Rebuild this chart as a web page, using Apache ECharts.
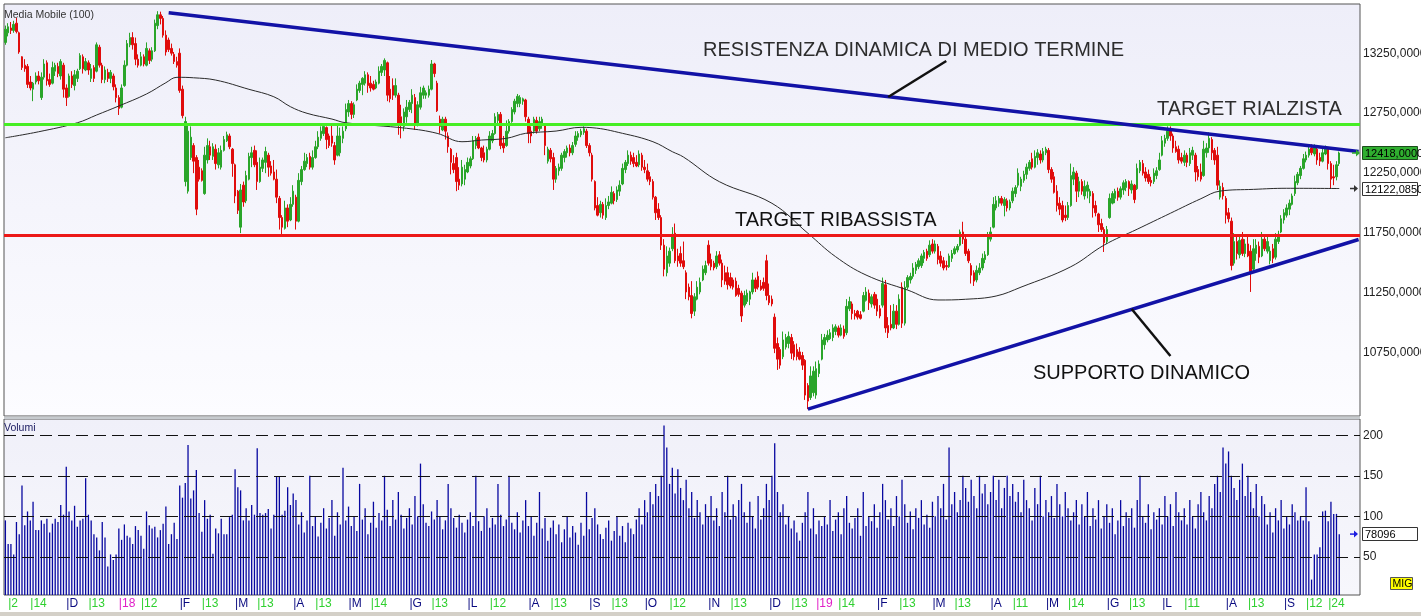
<!DOCTYPE html>
<html><head><meta charset="utf-8">
<script src="https://cdn.jsdelivr.net/npm/echarts@6/dist/echarts.min.js"></script>
<style>html,body{margin:0;padding:0;background:#fff;overflow:hidden}#c{width:1421px;height:616px}</style>
</head><body><div id="c"></div>
<script>
// ---------- DATA ----------
const startDate = [2017, 10, 1];
const endDate = [2019, 8, 30];
const holidays = ['2017-12-25','2017-12-26','2018-01-01','2018-03-30','2018-04-02','2018-05-01','2018-08-15','2018-12-24','2018-12-25','2018-12-26','2018-12-31','2019-01-01','2019-04-19','2019-04-22','2019-05-01','2019-08-15'];
const emptySlots = 7;

// [open, close, low, high]
const candles = [
[13340,13450,13320,13480],[13420,13470,13390,13500],[13460,13440,13410,13510],[13440,13490,13420,13520],[13500,13430,13415,13545],
[13420,13260,13245,13430],[13220,13130,13110,13225],[13150,13120,13095,13200],[13140,12990,12960,13160],[13010,12960,12940,13060],
[12950,13000,12850,13010],[13010,13060,12990,13090],[13060,13020,12990,13100],[12880,13050,12860,13090],[13050,13160,13030,13200],
[13170,13020,12980,13190],[13030,12990,12970,13080],[13000,13130,12990,13180],[13100,13150,13060,13170],[13140,13080,13050,13170],
[13060,13180,13030,13200],[13150,12950,12880,13170],[12960,12880,12810,12990],[12890,13060,12880,13080],[13060,12990,12960,13100],
[12980,13070,12940,13110],[13040,13100,13010,13120],[13120,13230,13110,13250],[13220,13120,13080,13240],[13110,13180,13100,13210],
[13170,13110,13070,13190],[13040,13120,13010,13160],[13130,13040,13010,13150],[13100,13320,13090,13340],[13300,13150,13130,13320],
[13150,13030,13000,13170],[13030,13110,13000,13140],[13090,13040,13010,13120],[13040,13090,13000,13110],[13060,12970,12940,13080],
[12960,12880,12840,12990],[12880,12790,12735,12900],[12800,12960,12790,12990],[12980,13150,12970,13190],[13150,13330,13140,13360],
[13320,13380,13300,13420],[13380,13320,13280,13425],[13330,13200,13150,13380],[13200,13150,13130,13240],[13150,13220,13140,13260],
[13220,13160,13140,13240],[13150,13290,13140,13340],[13270,13190,13160,13290],[13200,13270,13180,13300],[13270,13500,13260,13530],
[13480,13570,13450,13600],[13570,13540,13490,13596],[13540,13400,13380,13560],[13400,13260,13230,13440],[13360,13280,13260,13380],
[13290,13250,13230,13330],[13240,13180,13160,13260],[13180,13150,13130,13220],[13250,12940,12920,13290],[12950,12730,12707,12980],
[12180,12680,12140,12720],[12100,12600,12080,12650],[12380,12550,12360,12640],[12480,12350,12250,12500],[12380,11950,11900,12400],
[12300,12200,12180,12360],[12270,12190,12180,12290],[12080,12400,12070,12470],[12360,12480,12330,12540],[12470,12400,12360,12520],
[12390,12470,12360,12500],[12450,12330,12280,12490],[12320,12420,12290,12460],[12300,12440,12280,12480],[12440,12530,12430,12560],
[12520,12570,12510,12596],[12560,12470,12450,12580],[12450,12330,12220,12460],[12320,12060,12000,12330],[12100,11940,11910,12110],
[11800,12110,11750,12160],[12150,12010,11970,12180],[12020,12230,12000,12270],[12200,12390,12190,12420],[12380,12420,12300,12470],
[12440,12320,12300,12480],[12340,12180,12110,12440],[12180,12300,12170,12380],[12290,12360,12260,12380],[12340,12430,12250,12470],
[12400,12300,12220,12420],[12310,12250,12230,12350],[12260,12200,12190,12360],[12200,12050,12000,12280],[12040,11880,11780,12060],
[11880,11800,11721,11900],[11790,11960,11780,12020],[11960,11850,11800,11990],[11860,11990,11850,12050],[11990,12100,11970,12150],
[12050,11850,11780,12070],[11850,12190,11840,12250],[12180,12280,12150,12310],[12280,12350,12270,12420],[12330,12380,12300,12410],
[12390,12300,12280,12420],[12300,12380,12280,12440],[12380,12470,12370,12520],[12470,12550,12450,12600],[12540,12600,12520,12640],
[12580,12640,12560,12660],[12630,12530,12450,12640],[12560,12480,12460,12580],[12560,12500,12470,12650],[12480,12360,12320,12510],
[12400,12560,12390,12650],[12420,12560,12390,12630],[12540,12600,12500,12640],[12620,12780,12600,12830],[12760,12830,12720,12860],
[12830,12740,12700,12850],[12740,12820,12710,12840],[12860,12950,12850,12990],[12940,13000,12920,13020],[12990,13040,12900,13050],
[13000,13070,12980,13100],[13070,12980,12920,13090],[13000,12960,12930,13060],[12990,12950,12940,13020],[12960,13010,12950,13030],
[13000,13100,12990,13140],[13090,13140,13060,13160],[13110,13190,13060,13207],[13170,12900,12850,13180],[12950,12870,12840,13060],
[12980,12900,12860,13040],[12900,12980,12880,13040],[12900,12650,12570,12920],[12720,12650,12540,12820],[12640,12760,12600,12790],
[12720,12800,12670,12860],[12780,12840,12760,12860],[12830,12900,12750,12950],[12880,12660,12610,12910],[12660,12820,12640,12850],
[12800,12920,12780,12970],[12900,12960,12870,12980],[12900,12920,12870,12940],[12900,12950,12880,12980],[12950,13160,12940,13193],
[13160,13080,13050,13170],[13000,12770,12760,13020],[12700,12640,12580,12730],[12610,12700,12600,12720],[12700,12600,12530,12720],
[12560,12470,12420,12590],[12450,12340,12240,12460],[12330,12280,12250,12400],[12380,12180,12100,12420],[12200,12150,12110,12300],
[12160,12300,12140,12360],[12200,12280,12150,12320],[12260,12340,12250,12380],[12310,12370,12290,12390],[12370,12520,12360,12560],
[12480,12540,12450,12560],[12550,12460,12450,12580],[12460,12380,12350,12470],[12420,12360,12340,12480],[12360,12450,12340,12470],
[12450,12560,12440,12600],[12520,12580,12500,12610],[12580,12720,12570,12750],[12690,12740,12660,12760],[12740,12480,12450,12760],
[12500,12460,12420,12560],[12480,12600,12470,12690],[12600,12680,12580,12700],[12680,12780,12670,12800],[12760,12850,12740,12870],
[12830,12890,12800,12910],[12830,12880,12800,12900],[12850,12870,12820,12880],[12860,12720,12680,12870],[12700,12580,12500,12720],
[12600,12560,12500,12640],[12600,12700,12580,12720],[12690,12600,12580,12720],[12620,12680,12600,12720],[12660,12700,12620,12720],
[12650,12480,12400,12660],[12350,12450,12330,12470],[12440,12370,12340,12460],[12380,12200,12110,12420],[12200,12290,12170,12310],
[12270,12300,12230,12330],[12290,12400,12270,12420],[12380,12430,12340,12450],[12420,12460,12380,12480],[12460,12420,12390,12490],
[12420,12480,12400,12510],[12490,12560,12470,12600],[12550,12580,12520,12600],[12570,12600,12550,12620],[12590,12620,12570,12640],
[12600,12480,12460,12620],[12480,12420,12390,12500],[12400,12200,12180,12420],[12180,11960,11940,12190],[11980,11900,11890,12050],
[11920,11990,11880,12020],[11990,11900,11870,12010],[11880,11980,11860,12040],[11980,12010,11950,12060],[12000,12090,11990,12140],
[12080,12020,11990,12100],[12030,12110,12010,12140],[12100,12150,12060,12190],[12160,12290,12150,12330],[12280,12340,12250,12360],
[12330,12400,12310,12440],[12400,12350,12320,12430],[12380,12330,12300,12420],[12340,12310,12300,12400],[12320,12410,12300,12440],
[12400,12300,12270,12420],[12300,12280,12250,12360],[12270,12200,12180,12330],[12220,12180,12150,12260],[12180,12050,12030,12200],
[12050,11920,11860,12060],[11950,11880,11860,12000],[11880,11650,11610,11900],[11650,11450,11390,11700],[11420,11560,11390,11640],
[11500,11600,11470,11630],[11620,11740,11600,11800],[11750,11520,11500,11830],[11560,11520,11470,11620],[11580,11500,11470,11640],
[11520,11470,11450,11680],[11420,11260,11200,11440],[11300,11220,11190,11330],[11230,11080,11040,11350],[11100,11220,11060,11250],
[11200,11300,11190,11350],[11260,11340,11240,11380],[11360,11450,11350,11480],[11420,11480,11400,11520],[11650,11500,11480,11690],
[11530,11470,11440,11580],[11500,11460,11440,11520],[11470,11560,11450,11600],[11570,11500,11480,11600],[11500,11360,11300,11530],
[11420,11350,11320,11480],[11420,11320,11280,11470],[11380,11310,11290,11420],[11360,11300,11280,11380],[11350,11230,11220,11380],
[11290,11240,11220,11320],[11250,11060,11010,11270],[11150,11230,11130,11270],[11180,11250,11160,11280],[11200,11260,11150,11270],
[11260,11360,11240,11420],[11360,11290,11260,11380],[11390,11300,11280,11430],[11310,11280,11270,11360],[11340,11290,11270,11380],
[11520,11230,11190,11570],[11230,11170,11150,11330],[11200,11160,11140,11230],[11050,10790,10750,11080],[10830,10700,10610,10880],
[10780,10650,10620,10800],[10720,10860,10700,10930],[10800,10880,10780,10910],[10830,10890,10790,10930],[10880,10750,10700,10910],
[10820,10720,10690,10850],[10780,10720,10690,10830],[10760,10700,10690,10800],[10730,10650,10610,10760],[10690,10400,10360,10700],
[10480,10350,10283,10500],[10380,10560,10360,10640],[10420,10600,10390,10640],[10400,10620,10370,10680],[10580,10660,10550,10690],
[10700,10860,10690,10910],[10820,10880,10780,10910],[10860,10900,10840,10940],[10870,10920,10860,10950],[10880,10960,10850,10990],
[10930,10970,10900,10990],[10960,10900,10880,10980],[10900,10960,10890,10990],[10950,10890,10870,10980],[10920,11140,10900,11200],
[11120,11180,11100,11220],[11160,11080,11030,11180],[11080,11060,11030,11110],[11100,11050,11030,11110],[11070,11040,11030,11100],
[11100,11230,11090,11260],[11190,11260,11180,11300],[11250,11170,11110,11280],[11160,11220,11130,11240],[11240,11150,11120,11260],
[11200,11100,11060,11240],[11120,11060,11040,11150],[11150,11330,11130,11380],[11320,10960,10920,11360],[10980,10920,10876,11050],
[10990,10960,10940,11150],[10960,11100,10950,11160],[11100,10990,10950,11150],[10990,11200,10980,11240],[11300,11000,10960,11340],
[11000,11300,10980,11350],[11300,11380,11280,11400],[11360,11390,11330,11420],[11390,11460,11370,11500],[11440,11490,11410,11510],
[11470,11520,11450,11540],[11480,11560,11460,11580],[11540,11590,11500,11610],[11600,11540,11520,11620],[11570,11650,11550,11690],
[11660,11600,11580,11700],[11600,11660,11580,11690],[11640,11530,11490,11660],[11560,11500,11470,11600],[11520,11460,11440,11550],
[11480,11470,11440,11520],[11470,11560,11460,11580],[11540,11580,11510,11610],[11580,11620,11570,11640],[11610,11640,11590,11660],
[11650,11760,11640,11780],[11760,11700,11660,11845],[11700,11580,11560,11720],[11600,11520,11500,11620],[11480,11400,11330,11500],
[11420,11350,11310,11440],[11360,11440,11340,11480],[11420,11460,11400,11500],[11460,11540,11440,11580],[11530,11570,11500,11600],
[11570,11720,11560,11760],[11700,11760,11680,11800],[11800,11990,11790,12050],[11960,12020,11940,12060],[12000,12040,11970,12060],
[12040,12000,11980,12060],[11980,12030,11890,12050],[12020,11960,11930,12040],[11960,12010,11940,12030],[12020,12100,12000,12130],
[12080,12130,12050,12150],[12150,12250,12130,12290],[12140,12200,12100,12220],[12190,12240,12170,12270],[12240,12300,12200,12330],
[12290,12340,12270,12360],[12370,12300,12280,12420],[12300,12390,12290,12440],[12380,12420,12320,12450],[12410,12360,12330,12440],
[12360,12430,12340,12460],[12420,12450,12400,12470],[12440,12280,12250,12460],[12280,12200,12170,12300],[12220,12090,12080,12260],
[12100,11980,11930,12150],[12000,11950,11900,12050],[11980,11860,11840,12020],[11900,11880,11850,11980],[11880,11980,11860,12010],
[11980,12230,11970,12330],[12200,12260,12150,12300],[12250,12100,12010,12270],[12100,12180,12050,12220],[12180,12100,12070,12200],
[12060,12140,12030,12190],[12100,12150,12040,12180],[12060,12100,12000,12120],[12080,11960,11880,12100],[11980,11920,11890,12020],
[11910,11820,11760,11920],[11830,11780,11760,11870],[11780,11670,11593,11800],[11680,11780,11660,11810],[11880,12040,11870,12080],
[12000,12080,11990,12100],[12040,12100,12000,12120],[12100,12050,12020,12130],[12050,12120,12030,12140],[12110,12170,12070,12190],
[12130,12180,12100,12200],[12180,12120,12060,12190],[12110,12160,12080,12190],[12150,12030,12000,12160],[12120,12290,12110,12330],
[12270,12340,12250,12360],[12330,12250,12230,12360],[12260,12210,12180,12300],[12240,12180,12160,12280],[12190,12170,12140,12220],
[12180,12250,12160,12290],[12230,12270,12200,12300],[12280,12360,12270,12420],[12400,12520,12390,12560],[12500,12540,12470,12570],
[12540,12600,12520,12640],[12620,12560,12520,12640],[12560,12460,12420,12580],[12470,12430,12420,12520],[12450,12360,12330,12480],
[12380,12350,12330,12420],[12340,12400,12310,12440],[12400,12340,12300,12420],[12330,12420,12310,12460],[12400,12440,12360,12470],
[12400,12260,12180,12420],[12280,12220,12190,12310],[12260,12200,12180,12330],[12230,12450,12220,12520],[12420,12460,12380,12500],
[12460,12540,12420,12590],[12530,12420,12360,12550],[12440,12360,12320,12460],[12400,12150,12110,12470],[12050,12140,12030,12190],
[12130,12060,12030,12170],[12040,11900,11830,12060],[11920,11870,11840,11960],[11850,11480,11440,11880],[11500,11680,11480,11750],
[11680,11580,11530,11720],[11570,11690,11540,11740],[11700,11580,11560,11760],[11580,11660,11550,11700],[11660,11560,11550,11720],
[11600,11430,11260,11650],[11450,11620,11440,11700],[11580,11650,11520,11700],[11640,11550,11500,11680],[11560,11700,11550,11760],
[11700,11620,11600,11740],[11600,11680,11580,11720],[11520,11600,11490,11640],[11620,11540,11500,11660],[11550,11700,11530,11750],
[11680,11740,11660,11770],[11760,11870,11750,11900],[11860,11920,11830,11950],[11900,11960,11880,11990],[11950,12000,11900,12030],
[11990,12060,11980,12080],[12080,12180,12060,12230],[12170,12240,12150,12260],[12230,12290,12200,12310],[12290,12370,12280,12410],
[12360,12400,12340,12430],[12400,12450,12380,12480],[12460,12420,12400,12490],[12410,12460,12390,12490],[12450,12360,12320,12470],
[12380,12350,12310,12420],[12350,12420,12340,12470],[12410,12450,12400,12480],[12450,12330,12280,12460],[12330,12200,12120,12350],
[12220,12210,12150,12320],[12220,12320,12190,12350],[12330,12418,12310,12430]
];

// volumes, thousands
const volumes = [
95,66,66,53,93,78,138,89,106,95,118,83,83,95,91,97,80,91,97,93,
114,102,161,106,95,113,87,95,97,147,102,95,78,74,58,93,74,38,53,46,
53,85,71,90,76,74,66,88,83,76,60,106,89,85,87,74,83,91,112,66,
78,92,72,138,123,141,188,122,132,157,104,81,120,97,102,54,85,79,97,78,
78,99,102,158,136,132,95,110,95,114,102,184,104,102,104,109,85,102,149,149,
102,107,136,114,128,120,
90,105,80,95,150,88,100,75,92,110, 85,98,120,76,105,90,160,95,112,88,
100,82,140,96,110,78,92,118,86,104, 95,150,108,88,120,96,130,102,85,98,
110,90,125,100,165,115,92,88,106,96, 120,100,84,95,140,110,98,86,102,92,
80,96,105,88,150,94,82,100,110,86, 98,90,140,102,88,96,150,92,84,105,
80,95,120,88,100,76,92,130,85,98, 70,86,95,78,90,68,84,100,74,88,
80,65,92,76,130,84,98,110,90,78, 72,86,95,70,82,100,76,88,68,92,
85,78,96,110,90,120,105,130,115,140, 125,150,212,185,140,160,128,158,135,120,
145,110,130,98,120,105,90,115,100,125, 95,110,88,130,105,150,96,115,100,120,
140,105,92,118,100,85,125,96,110,140, 120,150,190,130,105,115,90,100,85,95,
80,70,92,105,130,85,110,78,95,88, 100,90,120,82,96,105,78,110,125,92,
85,98,110,76,130,88,100,94,115,86, 105,140,120,96,110,88,125,100,145,115,
92,106,84,110,98,120,90,102,86,118, 100,125,110,140,96,185,115,130,105,120,
150,135,118,145,125,110,150,128,140,115, 130,150,120,145,110,135,150,125,140,118,
130,105,145,120,110,95,135,115,150,100, 120,105,125,98,140,115,100,130,110,95,
105,120,90,115,100,130,88,110,96,120, 85,100,115,92,110,78,95,120,88,105,
98,110,86,120,150,100,92,115,84,105, 96,110,90,125,100,115,88,130,105,95,
110,90,120,100,85,115,130,105,95,125, 110,140,150,130,185,165,180,150,135,120,
145,165,125,150,130,110,140,100,125,115, 90,105,80,110,95,120,85,100,90,115,105,95,
100,95,136,94,22,53,53,62,106,107,94,118,103,103,78
];

// 100-day moving average read at sample bars: [barIndex, value]
const maPoints = [[0,12545],[12,12595],[26,12670],[33,12735],[41,12810],[51,12910],[58,13004],[62,13049],[68,13045],[76,13026],[88,12949],[97,12887],[103,12804],[109,12749],[118,12701],[123,12670],[145,12624],[156,12582],[165,12512],[172,12526],[181,12540],[188,12582],[199,12601],[208,12632],[212,12629],[223,12582],[234,12512],[241,12429],[245,12385],[258,12179],[277,11999],[290,11749],[300,11554],[311,11401],[326,11276],[337,11193],[347,11199],[358,11226],[367,11300],[385,11470],[397,11650],[409,11783],[421,11916],[432,12037],[439,12101],[451,12115],[463,12124],[482,12122.085]];

const resistanceLine = [[59,13587],[489,12430]];
const supportLine = [[290,10283],[489,11697]];
const pointerResistance = [[340,13185],[319,12885]];
const pointerSupport = [[407,11118],[421,10726]];
const targetUp = 12657;
const targetDown = 11732;
const priceTicks = [10750,11250,11750,12250,12750,13250];
const volumeTicks = [50,100,150,200];
const lastClose = 12418.0;
const lastMA = 12122.085;
const lastVolumeRaw = 78096;

// x-axis tick labels: [barIndex, text, kind] kind: d=day, m=month, y=year
const tickLabels = [[1,'2','d'],[9,'14','d'],[22,'D','m'],[30,'13','d'],[41,'18','y'],[49,'12','d'],[63,'F','m'],[71,'13','d'],[83,'M','m'],[91,'13','d'],[104,'A','m'],[112,'13','d'],[124,'M','m'],[132,'14','d'],[146,'G','m'],[154,'13','d'],[167,'L','m'],[175,'12','d'],[189,'A','m'],[197,'13','d'],[211,'S','m'],[219,'13','d'],[231,'O','m'],[240,'12','d'],[254,'N','m'],[262,'13','d'],[276,'D','m'],[284,'13','d'],[293,'19','y'],[301,'14','d'],[315,'F','m'],[323,'13','d'],[335,'M','m'],[343,'13','d'],[356,'A','m'],[364,'11','d'],[376,'M','m'],[384,'14','d'],[398,'G','m'],[406,'13','d'],[418,'L','m'],[426,'11','d'],[441,'A','m'],[449,'13','d'],[462,'S','m'],[470,'12','d'],[478,'24','d']];

// ---------- BUILD ----------
const dates = [];
(function () {
  let t = Date.UTC(startDate[0], startDate[1], startDate[2]);
  const end = Date.UTC(endDate[0], endDate[1], endDate[2]);
  while (t <= end) {
    const d = new Date(t); const wd = d.getUTCDay(); const s = d.toISOString().slice(0, 10);
    if (wd !== 0 && wd !== 6 && holidays.indexOf(s) < 0) dates.push(s);
    t += 86400000;
  }
})();
const n = candles.length;
const categories = dates.slice(0, n);
while (categories.length < n) categories.push('b' + categories.length);
for (let i = 0; i < emptySlots; i++) categories.push('e' + i);
const volData = volumes.slice(0, n);

const labelMap = {};
tickLabels.forEach(t => { labelMap[t[0]] = t; });

const FONT = '"Liberation Sans", Arial, sans-serif';
const chart = echarts.init(document.getElementById('c'), null, { renderer: 'canvas' });

const priceBg = new echarts.graphic.LinearGradient(0, 0, 0, 1, [{ offset: 0, color: '#eeeef9' }, { offset: 1, color: '#fcfcff' }]);
const volBg = new echarts.graphic.LinearGradient(0, 0, 0, 1, [{ offset: 0, color: '#f0f0f9' }, { offset: 1, color: '#f7f7fc' }]);

const option = {
  animation: false,
  backgroundColor: '#ffffff',
  grid: [
    { left: 4, top: 4, width: 1356, height: 412, show: true, backgroundColor: priceBg, borderColor: '#555', borderWidth: 1, containLabel: false, outerBoundsMode: 'none' },
    { left: 4, top: 419, width: 1356, height: 176, show: true, backgroundColor: volBg, borderColor: '#555', borderWidth: 1, containLabel: false, outerBoundsMode: 'none' }
  ],
  xAxis: [
    { type: 'category', gridIndex: 0, data: categories, boundaryGap: true, axisLine: { show: false }, axisTick: { show: false }, axisLabel: { show: false }, splitLine: { show: false } },
    { type: 'category', gridIndex: 1, data: categories, boundaryGap: true, axisLine: { show: false }, axisTick: { show: false }, splitLine: { show: false },
      axisLabel: {
        show: true, margin: 3, align: 'left', fontSize: 12, fontFamily: FONT,
        interval: function (i) { return !!labelMap[i]; },
        formatter: function (v, i) { const t = labelMap[i]; return t ? '{' + t[2] + '|' + '|' + t[1] + '}' : ''; },
        rich: {
          d: { color: '#2fd02f', fontSize: 12, fontFamily: FONT },
          m: { color: '#0a0a80', fontSize: 12, fontFamily: FONT },
          y: { color: '#e020c8', fontSize: 12, fontFamily: FONT }
        }
      }
    }
  ],
  yAxis: [
    { type: 'value', gridIndex: 0, position: 'right', min: 10226, max: 13660, scale: true,
      axisLine: { show: false }, axisTick: { show: false }, splitLine: { show: false },
      axisLabel: { show: true, customValues: priceTicks, margin: 3, align: 'left', color: '#222', fontSize: 12, fontFamily: FONT,
        formatter: function (v) { return v + ',0000'; } } },
    { type: 'value', gridIndex: 1, position: 'right', min: 3, max: 220,
      axisLine: { show: false }, axisTick: { show: false }, splitLine: { show: false },
      axisLabel: { show: true, customValues: volumeTicks, margin: 3, align: 'left', color: '#222', fontSize: 12, fontFamily: FONT } }
  ],
  series: [
    { name: 'Prezzo', type: 'candlestick', xAxisIndex: 0, yAxisIndex: 0, data: candles, barWidth: 2,
      itemStyle: { color: '#2aa52a', color0: '#e00c0c', borderColor: '#2aa52a', borderColor0: '#e00c0c', borderWidth: 1 },
      markLine: { silent: true, symbol: ['none', 'none'], label: { show: false }, animation: false,
        data: [
          { yAxis: targetUp, lineStyle: { color: '#46ee24', width: 3, type: 'solid' } },
          { yAxis: targetDown, lineStyle: { color: '#ec1818', width: 3, type: 'solid' } }
        ] },
      z: 3 },
    { name: 'Media Mobile (100)', type: 'line', xAxisIndex: 0, yAxisIndex: 0, data: maPoints, smooth: 0.4, showSymbol: false,
      lineStyle: { color: '#2a2a2a', width: 1 }, z: 4 },
    { name: 'Resistenza', type: 'line', xAxisIndex: 0, yAxisIndex: 0, data: resistanceLine, showSymbol: false, clip: true,
      lineStyle: { color: '#1212a6', width: 3.5 }, z: 5 },
    { name: 'Supporto', type: 'line', xAxisIndex: 0, yAxisIndex: 0, data: supportLine, showSymbol: false, clip: true,
      lineStyle: { color: '#1212a6', width: 3.5 }, z: 5 },
    { name: 'p1', type: 'line', xAxisIndex: 0, yAxisIndex: 0, data: pointerResistance, showSymbol: false,
      lineStyle: { color: '#111', width: 2.5 }, z: 6 },
    { name: 'p2', type: 'line', xAxisIndex: 0, yAxisIndex: 0, data: pointerSupport, showSymbol: false,
      lineStyle: { color: '#111', width: 2.5 }, z: 6 },
    { name: 'Volumi', type: 'bar', xAxisIndex: 1, yAxisIndex: 1, data: volData, barWidth: 1.3,
      itemStyle: { color: '#0808a0' },
      markLine: { silent: true, symbol: ['none', 'none'], label: { show: false }, animation: false,
        lineStyle: { color: '#111', width: 1, type: [12, 6] },
        data: volumeTicks.map(v => ({ yAxis: v })) },
      z: 3 }
  ]
};
chart.setOption(option);

// ---------- annotations ----------
function txt(x, y, s, size, color, extra) {
  return Object.assign({ type: 'text', z: 100, silent: true,
    style: { x: x, y: y, text: s, fill: color, font: size + 'px ' + FONT, align: 'left', verticalAlign: 'middle', textAlign: 'left', textVerticalAlign: 'middle' } }, extra || {});
}
function arrow(xEnd, y, color) {
  return [
    { type: 'line', z: 100, silent: true, shape: { x1: xEnd - 8, y1: y, x2: xEnd - 3, y2: y }, style: { stroke: color, lineWidth: 1.5 } },
    { type: 'polygon', z: 100, silent: true, shape: { points: [[xEnd - 4, y - 3.5], [xEnd, y], [xEnd - 4, y + 3.5]] }, style: { fill: color } }
  ];
}
function box(y, s, fill, stroke) {
  return [
    { type: 'rect', z: 100, silent: true, shape: { x: 1362.5, y: Math.round(y) - 6.5, width: 55, height: 13 }, style: { fill: fill, stroke: stroke, lineWidth: 1 } },
    txt(1365, Math.round(y) + 0.5, s, 11, '#000')
  ];
}
const yClose = chart.convertToPixel({ yAxisIndex: 0 }, lastClose);
const yMA = chart.convertToPixel({ yAxisIndex: 0 }, lastMA);
const yVol = chart.convertToPixel({ yAxisIndex: 1 }, lastVolumeRaw / 1000);
function fmt(v, d) { return v.toFixed(d).replace('.', ','); }

const graphics = [
  { type: 'rect', z: 90, silent: true, shape: { x: 4, y: 416.5, width: 1356, height: 2.5 }, style: { fill: '#c6cace' } },
  { type: 'rect', z: 90, silent: true, shape: { x: 0, y: 612, width: 1421, height: 4 }, style: { fill: '#d4d0c8' } },
  txt(4, 15, 'Media Mobile (100)', 10.5, '#333'),
  txt(4, 428, 'Volumi', 10.5, '#1a1a60'),
  txt(703, 50, 'RESISTENZA DINAMICA DI MEDIO TERMINE', 20, '#2d2d2d'),
  txt(1157, 109, 'TARGET RIALZISTA', 20, '#2d2d2d'),
  txt(735, 220, 'TARGET RIBASSISTA', 20, '#111'),
  txt(1033, 373, 'SUPPORTO DINAMICO', 20, '#111'),
  { type: 'rect', z: 100, silent: true, shape: { x: 1390.5, y: 577.5, width: 22, height: 12 }, style: { fill: '#ffff00', stroke: '#555', lineWidth: 1 } },
  txt(1392.5, 584, 'MIG', 10.5, '#000')
].concat(
  arrow(1360, yClose, '#2ea82e'), box(yClose, fmt(lastClose, 4), '#2fae2f', '#1b4d1b'),
  arrow(1358, yMA, '#333'), box(yMA, fmt(lastMA, 4), '#ffffff', '#333'),
  arrow(1358, yVol, '#1c1ce0'), box(yVol, String(lastVolumeRaw), '#ffffff', '#333')
);
chart.setOption({ graphic: { elements: graphics } });
</script>
</body></html>
